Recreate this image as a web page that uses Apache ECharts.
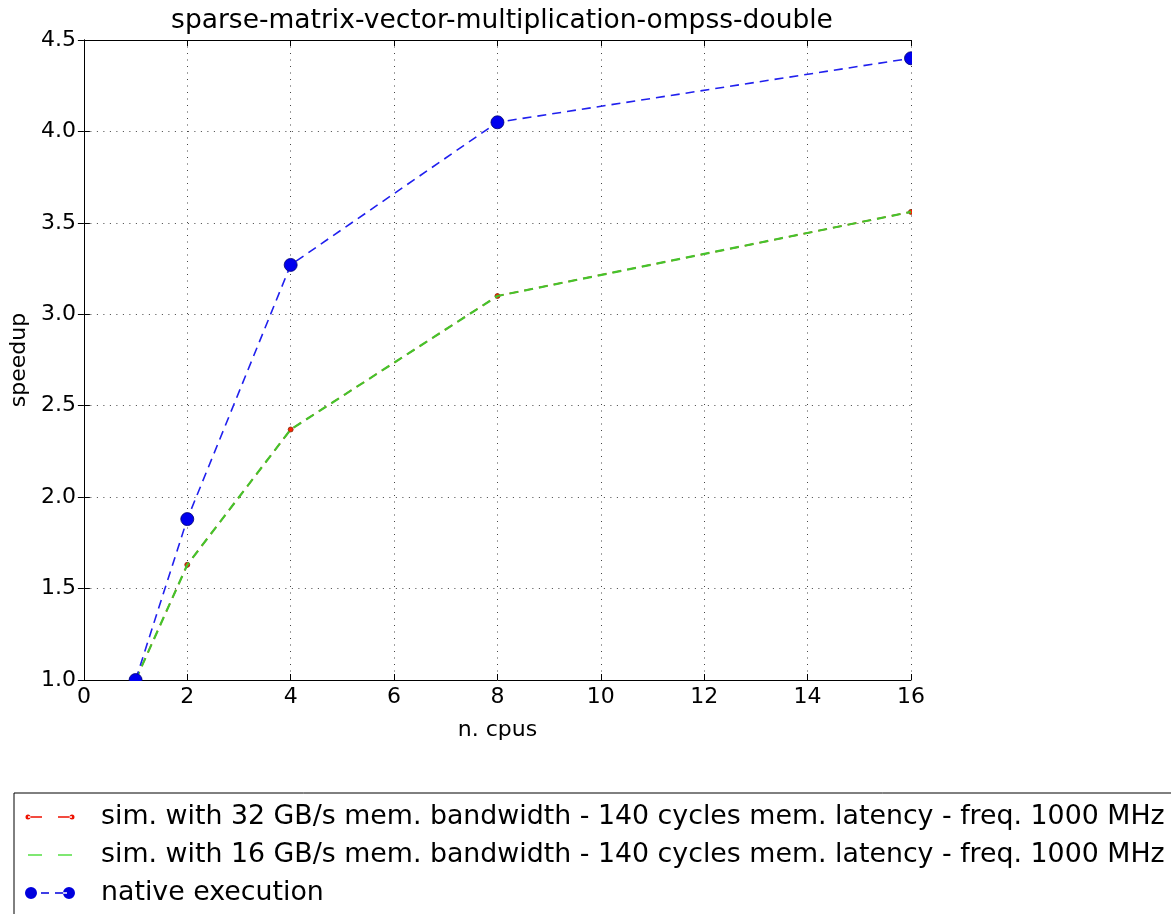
<!DOCTYPE html>
<html>
<head>
<meta charset="utf-8">
<script src="https://cdn.jsdelivr.net/npm/echarts@6/dist/echarts.min.js"></script>
<style>
html,body{margin:0;padding:0;background:#fff;}
#chart{width:1171px;height:914px;}
</style>
</head>
<body>
<div id="chart"></div>
<script>
var titleText = 'sparse-matrix-vector-multiplication-ompss-double';
var cpus = [1, 2, 4, 8, 16];
var sim32 = [1.0, 1.63, 2.37, 3.10, 3.56];
var sim16 = [1.0, 1.63, 2.37, 3.10, 3.56];
var native = [1.0, 1.88, 3.27, 4.05, 4.40];
var seriesNames = [
  'sim. with 32 GB/s mem. bandwidth - 140 cycles mem. latency - freq. 1000 MHz',
  'sim. with 16 GB/s mem. bandwidth - 140 cycles mem. latency - freq. 1000 MHz',
  'native execution'
];
var xTicks = {min: 0, max: 16, interval: 2};
var yTicks = {min: 1.0, max: 4.5, interval: 0.5};

function pairs(xs, ys) { return xs.map(function (x, i) { return [x, ys[i]]; }); }

var FONT = 'DejaVu Sans';
var chart = echarts.init(document.getElementById('chart'), null, {renderer: 'canvas'});

var G = {left: 83, right: 260, top: 40, bottom: 234};
var gridLine = {show: true, lineStyle: {color: '#444', type: [1, 5.5], width: 1}};
var axLine = {show: true, lineStyle: {color: '#000', width: 1}};
var tick = {show: true, inside: true, length: 6, lineStyle: {color: '#000'}};

// legend icons (bbox forced by moveTo points)
var iconRed = 'path://M0 0M50 12M0.5 6a2.5 2.5 0 1 0 5 0a2.5 2.5 0 1 0 -5 0zM3 5.2h14v1.6h-14zM33 5.2h14v1.6h-14zM44.5 6a2.5 2.5 0 1 0 5 0a2.5 2.5 0 1 0 -5 0z';
var iconGreen = 'path://M0 0M50 12M3 5.3h14v1.4h-14zM33 5.3h14v1.4h-14z';
var iconBlue = 'path://M0 0M50 12M0 6a6 6 0 1 0 12 0a6 6 0 1 0 -12 0zM16 5.2h8v1.6h-8zM30 5.2h12v1.6h-12zM38 6a6 6 0 1 0 12 0a6 6 0 1 0 -12 0z';

var option = {
  backgroundColor: '#fff',
  animation: false,
  textStyle: {fontFamily: FONT},
  title: {
    text: titleText, left: 497, top: 3, textAlign: 'center',
    textStyle: {fontFamily: FONT, fontSize: 26.5, fontWeight: 'normal', color: '#000'}
  },
  grid: G,
  legend: {
    orient: 'vertical', left: 14, top: 793, height: 200,
    borderColor: '#000', borderWidth: 1, padding: [9, 30, 20, 11],
    itemWidth: 50, itemHeight: 12, itemGap: 8, symbolKeepAspect: false,
    textStyle: {fontFamily: FONT, fontSize: 26.8, color: '#000', lineHeight: 30, padding: [0, 0, 0, 21]},
    data: [
      {name: seriesNames[0], icon: iconRed, itemStyle: {color: '#ee1100', borderWidth: 0}},
      {name: seriesNames[1], icon: iconGreen, itemStyle: {color: '#55e044', borderWidth: 0}},
      {name: seriesNames[2], icon: iconBlue, itemStyle: {color: '#0000dd', borderWidth: 0}}
    ]
  },
  xAxis: [{
    type: 'value', min: xTicks.min, max: xTicks.max, interval: xTicks.interval, position: 'bottom',
    name: 'n. cpus', nameLocation: 'middle', nameGap: 39,
    nameTextStyle: {fontFamily: FONT, fontSize: 22, color: '#000'},
    axisLine: axLine, axisTick: tick, splitLine: gridLine,
    axisLabel: {fontFamily: FONT, fontSize: 22, color: '#000', margin: 6}
  }, {
    type: 'value', min: xTicks.min, max: xTicks.max, interval: xTicks.interval, position: 'top',
    axisLine: axLine, axisTick: tick, splitLine: {show: false}, axisLabel: {show: false}
  }],
  yAxis: [{
    type: 'value', min: yTicks.min, max: yTicks.max, interval: yTicks.interval, position: 'left',
    name: 'speedup', nameLocation: 'middle', nameGap: 52, nameRotate: 90,
    nameTextStyle: {fontFamily: FONT, fontSize: 22, color: '#000'},
    axisLine: axLine, axisTick: tick, splitLine: gridLine,
    axisLabel: {fontFamily: FONT, fontSize: 22, color: '#000', margin: 8,
      formatter: function (v) { return v.toFixed(1); }}
  }, {
    type: 'value', min: yTicks.min, max: yTicks.max, interval: yTicks.interval, position: 'right',
    axisLine: axLine, axisTick: tick, splitLine: {show: false}, axisLabel: {show: false}
  }],
  series: [{
    name: seriesNames[0], type: 'line', data: pairs(cpus, sim32), z: 2,
    symbol: 'circle', symbolSize: 5,
    itemStyle: {color: '#ff2200', borderColor: '#803010', borderWidth: 0.8},
    lineStyle: {color: '#ff2200', width: 1.5, type: [9, 6]}
  }, {
    name: seriesNames[1], type: 'line', data: pairs(cpus, sim16), z: 3,
    symbol: 'none',
    itemStyle: {color: '#44cc2a'},
    lineStyle: {color: '#44c42c', width: 2.2, type: [9, 6]}
  }, {
    name: seriesNames[2], type: 'line', data: pairs(cpus, native), z: 4,
    symbol: 'circle', symbolSize: 13,
    itemStyle: {color: '#0000ee', borderColor: '#000070', borderWidth: 0.8},
    lineStyle: {color: '#2020ee', width: 1.6, type: [9, 6]}
  }],
  graphic: [
    {type: 'rect', z: 50, shape: {x: 912, y: 30, width: 14, height: 651}, style: {fill: '#fff'}},
    {type: 'rect', z: 50, shape: {x: 84, y: 681, width: 842, height: 6}, style: {fill: '#fff'}}
  ]
};
chart.setOption(option);
</script>
</body>
</html>
